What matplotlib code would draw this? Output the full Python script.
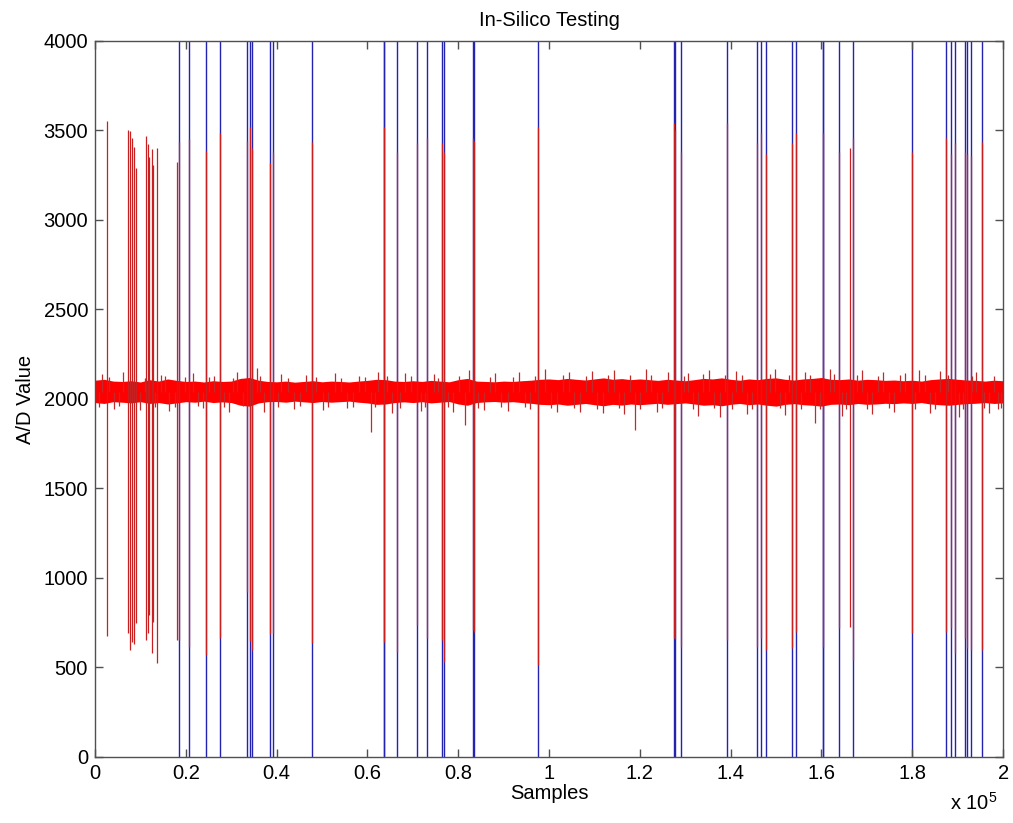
import numpy as np
import matplotlib
matplotlib.use('Agg')
import matplotlib.pyplot as plt

plt.rcParams['font.family'] = 'Liberation Sans'
plt.rcParams['mathtext.fontset'] = 'custom'
plt.rcParams['mathtext.rm'] = 'Liberation Sans'
plt.rcParams['mathtext.default'] = 'regular'

# sample index of each stimulus pulse (blue trace, rails 0 / 4095)
pulse_pos = [18524, 20727, 24405, 27488, 33369, 34030, 34470, 38502, 39097,
             47690, 63612, 63700, 66540, 70815, 73085, 76320, 76830, 83215,
             83500, 97530, 127560, 127780, 128960, 139090, 145700, 146580,
             147680, 153410, 154350, 160310, 160420, 163900, 166850, 179840,
             187330, 188500, 189310, 191600, 192100, 192900, 195390]

# recorded response spikes (red trace): position, peak, trough
spike_pos = [2533, 7291, 7665, 8040, 8612, 8987, 11189, 11564, 11784, 12511,
             12797, 13678, 18083, 18524, 20727, 24405, 27488, 33369, 34030,
             34470, 38502, 39097, 47690, 63612, 66540, 70815, 73085, 76320,
             76830, 83215, 83500, 97530, 127560, 127780, 128960, 139090,
             145700, 146580, 147680, 153410, 154350, 160310, 163900, 166250,
             166850, 179840, 187330, 188500, 189310, 191600, 192100, 192900,
             195390]
spike_top = [3555, 3503, 3497, 3460, 3406, 3290, 3470, 3425, 3350, 3395,
             3307, 3404, 3322, 3434, 3451, 3387, 3484, 3440, 3520, 3400,
             3318, 3382, 3438, 3521, 3380, 3430, 3458, 3430, 3380, 3458,
             3440, 3521, 3540, 3500, 3380, 3540, 3430, 3486, 3370, 3430,
             3486, 3486, 3380, 3400, 3458, 3380, 3458, 3370, 3430, 3380,
             3370, 3360, 3438]
spike_bot = [676, 694, 598, 640, 631, 750, 654, 693, 793, 583,
             756, 523, 654, 654, 615, 570, 665, 920, 650, 600,
             687, 692, 637, 644, 588, 737, 665, 654, 532, 710,
             700, 514, 665, 660, 616, 654, 616, 665, 598, 609,
             700, 616, 720, 728, 542, 693, 700, 720, 581, 665,
             609, 598, 598]

# baseline noise: min/max of the red trace per 2000-sample block
band_x = np.arange(0, 200001, 2000)
band_hi = [2105, 2110, 2100, 2098, 2102, 2095, 2108, 2100, 2112, 2104,
           2098, 2100, 2095, 2102, 2098, 2100, 2115, 2120, 2105, 2098,
           2096, 2100, 2094, 2098, 2102, 2096, 2100, 2098, 2095, 2100,
           2104, 2110, 2108, 2100, 2098, 2102, 2098, 2104, 2100, 2096,
           2108, 2115, 2100, 2098, 2096, 2100, 2098, 2102, 2105, 2110,
           2112, 2108, 2115, 2110, 2106, 2112, 2118, 2110, 2114, 2108,
           2112, 2108, 2104, 2110, 2106, 2102, 2108, 2115, 2112, 2118,
           2110, 2105, 2112, 2108, 2115, 2118, 2110, 2106, 2112, 2115,
           2120, 2110, 2108, 2112, 2105, 2110, 2108, 2104, 2106, 2102,
           2105, 2100, 2108, 2112, 2115, 2110, 2106, 2104, 2100, 2105, 2102]
band_lo = [1980, 1975, 1985, 1982, 1978, 1985, 1975, 1980, 1972, 1978,
           1985, 1982, 1988, 1980, 1984, 1980, 1965, 1960, 1978, 1985,
           1986, 1982, 1988, 1984, 1980, 1986, 1982, 1985, 1988, 1982,
           1978, 1970, 1972, 1980, 1984, 1980, 1985, 1978, 1982, 1986,
           1972, 1965, 1980, 1984, 1986, 1982, 1985, 1980, 1976, 1970,
           1968, 1972, 1965, 1970, 1975, 1968, 1962, 1970, 1966, 1972,
           1968, 1972, 1976, 1970, 1974, 1978, 1972, 1965, 1968, 1962,
           1970, 1975, 1968, 1972, 1965, 1960, 1970, 1974, 1968, 1965,
           1960, 1970, 1972, 1968, 1975, 1970, 1972, 1976, 1974, 1978,
           1975, 1980, 1972, 1968, 1965, 1970, 1974, 1976, 1980, 1975, 1978]

# isolated noise excursions outside the band
exc_pos = [1500, 4200, 6100, 9800, 14500, 16200, 21500, 23800, 26300, 29500,
           31200, 35600, 37200, 41000, 43800, 46500, 50200, 52800, 55400, 58100,
           60800, 62300, 65500, 68200, 71900, 74600, 78800, 81500, 82400, 85600,
           88200, 90900, 93400, 95800, 99200, 101800, 104300, 106900, 109500, 111800,
           114200, 116600, 118900, 121300, 123700, 126100, 130500, 132800, 135200, 137600,
           141200, 143600, 149800, 151900, 156300, 158600, 161800, 164500, 168900, 171200,
           173600, 176000, 178400, 181500, 183900, 186200, 190400, 194100, 196800, 198900,
           800, 3100, 5300, 10900, 13200, 15400, 17600, 19900, 22600, 25100,
           28400, 30300, 32500, 36400, 40200, 42600, 45200, 48700, 51400, 54100,
           56800, 59400, 61600, 64300, 67100, 69600, 72700, 75500, 77700, 80200,
           84300, 86900, 89500, 92100, 94600, 97000, 100500, 103100, 105600, 108200,
           110600, 113000, 115400, 117800, 120100, 122500, 124900, 129800, 131600, 134000,
           136400, 138800, 140400, 142500, 144700, 148600, 150900, 152800, 155400, 157500,
           159600, 162700, 165400, 167800, 170100, 172400, 174800, 177200, 180600, 182700,
           185100, 187900, 191200, 193200, 195900, 197900, 199600]
exc_val = [2140, 1945, 2150, 1940, 2135, 1935, 2145, 1950, 2130, 1930,
           2150, 2175, 1925, 2140, 1945, 2135, 1940, 2145, 1950, 2130,
           1816, 2150, 1920, 2145, 1935, 2140, 1930, 1855, 2160, 1940,
           2145, 1935, 2150, 1945, 2165, 1930, 2150, 1925, 2155, 1920,
           2160, 1915, 1827, 2165, 1925, 2150, 2145, 1905, 2160, 1900,
           2155, 1915, 2165, 1910, 2150, 1866, 2170, 1905, 2160, 1915,
           2150, 1925, 2145, 2160, 1920, 2155, 1900, 2150, 1920, 1945,
           1955, 2125, 1960, 2120, 1958, 2128, 1955, 2122, 1960, 2125,
           1955, 2120, 1962, 2128, 1958, 2118, 1960, 2124, 1956, 2120,
           1958, 2122, 1955, 2130, 1950, 2126, 1958, 2120, 1955, 2128,
           1950, 2125, 1958, 2122, 1955, 2130, 1950, 2132, 1948, 2130,
           1945, 2135, 1948, 2132, 1945, 2135, 1948, 2130, 1945, 2138,
           1948, 2132, 1945, 2135, 1942, 2138, 1948, 2135, 1945, 2132,
           1942, 2138, 1946, 2134, 1945, 2130, 1950, 2135, 1946, 2132,
           1945, 2136, 1942, 2130, 1948, 2128, 1950]

yticks = [0, 500, 1000, 1500, 2000, 2500, 3000, 3500, 4000]
xticks = [0, 20000, 40000, 60000, 80000, 100000, 120000, 140000, 160000, 180000, 200000]
xtick_labels = ['0', '0.2', '0.4', '0.6', '0.8', '1', '1.2', '1.4', '1.6', '1.8', '2']

fig = plt.figure(figsize=(10.13, 8.23), dpi=100, facecolor='white')
ax = fig.add_axes([0.0938, 0.0802, 0.8964, 0.8700])

# stimulus trace underneath
ax.vlines(pulse_pos, 0, 4095, color='#2323b0', lw=1.0, zorder=1)

# response trace on top
ax.fill_between(band_x, band_lo, band_hi, color='#ff0000', lw=0, zorder=2)
ax.vlines(exc_pos, 2040, exc_val, color='#c02a2a', lw=0.9, zorder=2)
ax.vlines(spike_pos, spike_bot, spike_top, color='#c82020', lw=0.9, zorder=3)

ax.set_xlim(0, 200000)
ax.set_ylim(0, 4000)
ax.set_xticks(xticks)
ax.set_xticklabels(xtick_labels)
ax.set_yticks(yticks)
ax.tick_params(direction='in', length=6, width=1, colors='#505050',
               labelcolor='black', labelsize=14.5, top=True, right=True, pad=5)
for s in ax.spines.values():
    s.set_color('#505050')
    s.set_linewidth(1)

ax.set_title('In-Silico Testing', fontsize=14.5, pad=11)
ax.set_xlabel('Samples', fontsize=14.5, labelpad=1)
ax.set_ylabel('A/D Value', fontsize=14.5, labelpad=6)
fig.text(0.985, 0.011, r'x 10$^{5}$', fontsize=14.5, ha='right', va='bottom')

fig.savefig('out.png', dpi=100, facecolor='white')
